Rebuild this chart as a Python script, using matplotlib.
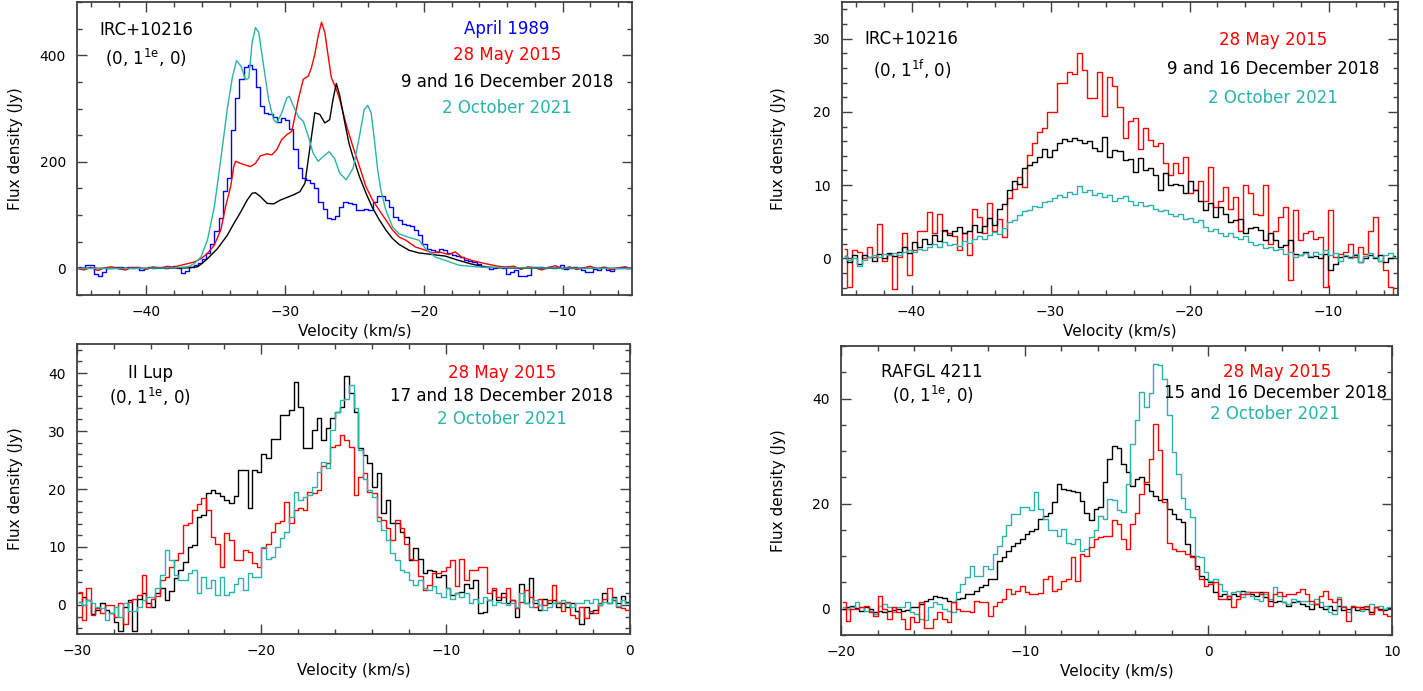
import numpy as np
import matplotlib.pyplot as plt
from matplotlib.ticker import MultipleLocator

BLUE = '#0000ff'
RED = '#ff0000'
BLACK = '#000000'
TEAL = '#2ab3ab'

# IRC+10216 (0,1^1e,0): smooth spectra sampled at read-off velocities
irc_e_v_oct21 = [-45, -41, -38, -37.0, -36.55, -36.07, -35.6, -35.1, -34.64, -34.17, -33.8, -33.5,
                 -33.17, -32.86, -32.62, -32.38, -32.14, -31.9, -31.55, -31.19, -30.83, -30.6, -30.24,
                 -29.88, -29.7, -29.4, -29.05, -28.69, -28.33, -27.98, -27.62, -27.26, -26.83, -26.43,
                 -26.07, -25.6, -25.1, -24.64, -24.3, -24.05, -23.8, -23.57, -23.33, -23.1, -22.74,
                 -22.26, -21.8, -21.07, -20.36, -19.88, -19.17, -18.45, -17.5, -16.07, -14, -10, -5]
irc_e_f_oct21 = [0, 0, 1, 3, 9, 21, 53, 116, 204, 299, 359, 390, 379, 354, 357, 424, 452, 443, 380, 317,
                 279, 273, 292, 320, 323, 305, 285, 276, 248, 216, 201, 210, 219, 206, 179, 166, 188, 248,
                 298, 306, 292, 242, 185, 147, 109, 78, 65, 58, 53, 37, 21, 15, 6, 2.5, 1, 0.5, 0]

irc_e_v_dec18 = [-45, -40, -37, -36.3, -35.6, -34.88, -34.17, -33.7, -33.2, -32.74, -32.38, -32.14,
                 -31.79, -31.3, -30.83, -30.36, -29.88, -29.4, -28.93, -28.57, -28.2, -27.86, -27.5,
                 -27.14, -26.79, -26.55, -26.31, -26.07, -25.71, -25.4, -25.12, -24.64, -24.17, -23.69,
                 -23.21, -22.74, -22.26, -21.79, -21.07, -20.36, -19.4, -18.45, -17.5, -16.55, -15.6,
                 -14.17, -10, -5]
irc_e_f_dec18 = [0, 0, 1, 3, 18, 37, 62, 84, 106, 128, 141, 142, 135, 122, 121, 128, 133, 138, 144, 160,
                 229, 292, 289, 273, 279, 317, 347, 325, 275, 235, 210, 172, 141, 113, 91, 72, 56, 45,
                 34, 29, 26, 23, 15, 8, 2.5, 0.6, 0, 0]

irc_e_v_may15 = [-45, -44.5, -44.0, -43.5, -43.0, -42.5, -42.0, -41.5, -41.0, -40.5, -40.0, -39.5, -39.0,
                 -38.5, -38.0, -37.5, -37.0, -36.55, -36.07, -35.6, -35.12, -34.64, -34.29, -33.93,
                 -33.7, -33.57, -33.21, -32.86, -32.5, -32.14, -31.79, -31.31, -30.95, -30.6, -30.24,
                 -29.88, -29.52, -29.29, -29.05, -28.69, -28.33, -28.1, -27.86, -27.62, -27.38, -27.14,
                 -26.9, -26.67, -26.31, -26.07, -25.6, -25.12, -24.64, -24.17, -23.69, -23.21, -22.74,
                 -22.26, -21.79, -21.31, -20.6, -19.88, -19.4, -18.93, -18.21, -17.74, -17.26, -16.55,
                 -15.6, -14.64, -14.17, -13.5, -13.0, -12.5, -12.0, -11.5, -11.0, -10.5, -10.0, -9.5,
                 -9.0, -8.5, -8.0, -7.5, -7.0, -6.5, -6.0, -5.5, -5.0]
irc_e_f_may15 = [0, -3, 2, -4, 1, 3, -1, -3, 2, 1, -2, 3, 0, 4, 2, 6, 9, 12, 18, 28, 43, 72, 116, 153,
                 191, 201, 197, 194, 191, 197, 211, 215, 213, 223, 242, 251, 257, 286, 317, 355, 361,
                 377, 402, 436, 462, 443, 399, 358, 336, 317, 270, 229, 191, 153, 128, 109, 91, 72, 59,
                 53, 40, 34, 29, 31, 26, 31, 21, 15, 9, 4, 2.5, 4, -2, 3, 1, -3, 2, 5, -1, 3, -2, 1, 4,
                 -1, 2, -3, 1, 3, -1]

# April 1989, 0.3 km/s channels from -45 km/s
irc_e_f_apr89 = [2.5, 0, 5.7, 6, -10, -15, -7, 0, 1, 2.5,
                 2, 1, 2, 0, 2, -4, 0, 2, 1, 2,
                 2, 1, 2, 4, 0, -9, -5, 3, 6, 10,
                 18, 28, 45, 70, 95, 145, 170, 260, 320, 355,
                 378, 381, 375, 340, 305, 292, 290, 285, 274, 282,
                 278, 262, 225, 188, 170, 165, 160, 150, 125, 112,
                 95, 92, 98, 115, 125, 122, 120, 109, 110, 111,
                 110, 125, 136, 136, 128, 115, 97, 90, 84, 81,
                 80, 72, 62, 45, 37, 35, 31, 37, 35, 29,
                 26, 24, 21, 16, 13, 12, 8, 5, 2.5, -1,
                 0, 2, 1, -10, -7, -4, -15, -15, -13, 2.5,
                 2, 2, 1, 2, 0, 3, 6, -1, 0, 2,
                 1, -4, -7, -6, -1, -4, 2, -4, -5, 1,
                 0, 2, 1]

# IRC+10216 (0,1^1f,0), channels spanning -45 .. -5 km/s
irc_f_may15 = [1.3, -3.9, 1.1, 0.9, 0.0, 1.6, 0.2, 4.7, -0.3, 0.6,
               -4.2, 0.2, 3.4, -2.3, 1.1, 3.8, 3.8, 6.3, 3.4, 6.0,
               3.8, 3.4, 3.0, 1.1, 3.4, 0.4, 6.8, 5.7, 3.4, 7.5,
               3.8, 5.4, 2.9, 8.2, 9.5, 11.1, 9.8, 14.1, 15.7, 17.3,
               17.8, 20.0, 20.0, 23.9, 23.9, 25.5, 25.2, 28.0, 25.7, 21.9,
               21.9, 25.5, 19.4, 24.8, 23.5, 20.7, 16.4, 18.7, 19.1, 15.0,
               17.8, 16.2, 15.3, 15.7, 13.0, 11.4, 13.0, 11.6, 13.9, 8.9,
               9.3, 10.5, 7.9, 12.5, 7.0, 7.9, 9.8, 6.8, 8.4, 3.8,
               10.0, 8.9, 6.1, 5.9, 10.0, 2.0, 3.8, 5.7, 7.0, -3.0,
               6.6, 2.5, 3.4, 3.8, 2.7, 2.9, -3.9, 6.6, 0.2, 0.6,
               0.9, 2.0, 0.2, 1.6, 0.6, 3.8, 5.7, -0.3, -1.6, -3.9,
               -5.0]
irc_f_dec18 = [0.3, -0.5, 0.4, -0.8, 0.5, 0.2, -0.3, 0.6, 0.1, 0.8,
               0.3, 0.9, 1.6, 0.8, 2.2, 1.6, 2.6, 2.0, 3.2, 2.4,
               3.9, 3.2, 3.8, 4.3, 3.4, 3.8, 4.5, 3.6, 4.4, 5.5,
               4.6, 6.8, 7.4, 9.4, 10.6, 10.2, 12.4, 12.8, 13.2, 13.8,
               14.9, 13.9, 14.8, 15.8, 16.3, 16.0, 16.5, 16.2, 15.7, 16.0,
               15.1, 14.6, 16.6, 13.9, 14.8, 14.6, 13.4, 13.6, 11.8, 13.7,
               12.1, 12.3, 11.4, 9.3, 11.6, 10.0, 10.2, 10.0, 8.9, 10.5,
               9.3, 7.9, 6.6, 7.5, 5.7, 7.0, 6.1, 5.0, 5.2, 5.4,
               3.4, 4.1, 4.3, 3.9, 2.5, 3.4, 2.5, 1.6, 1.8, 2.5,
               0.6, 0.4, 0.9, 0.2, 0.3, 0.0, 0.6, -1.6, -0.7, 0.2,
               0.3, 0.2, 0.4, -0.5, 0.0, 0.5, 0.1, 0.4, -0.5, 0.0,
               0.3]
irc_f_oct21 = [0.3, -0.2, 0.1, -1.0, -0.2, 0.2, 0.5, 0.2, 0.6, 0.4,
               0.7, 0.5, 0.9, 1.2, 0.9, 1.3, 1.1, 1.6, 1.9, 1.5,
               2.2, 1.8, 2.0, 1.7, 2.4, 2.1, 2.7, 3.0, 2.6, 3.2,
               3.6, 3.3, 4.1, 5.0, 5.3, 5.9, 6.4, 6.6, 7.2, 7.0,
               7.7, 7.9, 8.3, 8.7, 8.4, 9.1, 8.8, 9.9, 9.1, 9.4,
               8.7, 8.9, 8.4, 8.6, 7.9, 8.2, 8.5, 7.9, 7.3, 7.7,
               7.1, 7.3, 6.7, 6.4, 6.6, 6.0, 5.8, 6.0, 5.4, 5.5,
               4.9, 5.2, 4.3, 3.8, 4.0, 3.4, 3.1, 3.4, 2.9, 2.6,
               3.0, 2.3, 1.8, 2.0, 1.4, 1.6, 1.1, 1.3, 0.6, 0.9,
               0.2, 0.5, 0.7, 0.3, 0.9, 0.6, 1.2, 0.4, 0.8, -0.3,
               0.5, 0.1, 0.6, -0.5, 0.3, 0.7, 0.2, -0.4, 0.4, 0.8,
               0.2]

# II Lup (0,1^1e,0), 0.25 km/s channels from -30 km/s
lup_dec18 = [0.5, 1.4, 0.8, -1.5, -0.9, 0.3, -0.9, -1.4, -2.9, -4.4,
             -0.3, 0.9, -4.4, 1.1, 2.0, 0.3, -0.3, 2.0, 2.9, 0.9,
             2.5, 4.6, 6.0, 7.5, 10.0, 10.3, 15.2, 15.5, 19.3, 19.9,
             19.3, 18.8, 18.1, 17.6, 18.8, 23.3, 23.3, 16.7, 23.3, 23.0,
             26.1, 25.3, 28.7, 28.7, 32.8, 32.8, 33.6, 38.5, 34.2, 27.0,
             27.0, 30.2, 32.2, 28.4, 30.5, 32.2, 33.3, 34.2, 39.5, 36.5,
             33.3, 27.0, 25.9, 24.4, 20.4, 22.7, 15.8, 18.1, 14.1, 14.1,
             12.6, 11.8, 7.8, 9.8, 8.0, 5.5, 6.0, 5.8, 4.9, 5.2,
             3.0, 1.7, 2.0, 2.3, 3.7, 2.9, 4.3, -1.4, -1.2, 0.9,
             2.6, 0.9, 2.0, 0.3, 0.9, -2.0, 3.7, 0.3, 4.6, 0.3,
             -0.9, 1.1, 0.3, 0.9, -0.3, 0.3, -0.3, 0.3, -1.1, -3.2,
             -0.3, -1.4, -0.9, 0.0, 2.0, 0.3, 1.4, 0.3, 1.5, 0.5]
lup_may15 = [2.3, -2.6, 2.9, -1.7, -0.6, -1.4, 0.0, 0.0, -2.0, 0.4,
             -3.2, 0.6, 1.1, 1.7, 5.2, -0.3, 1.1, 1.5, 4.3, 4.9,
             6.6, 7.8, 8.9, 13.8, 14.1, 16.4, 17.5, 18.4, 16.4, 11.8,
             10.6, 6.6, 12.4, 11.2, 7.8, 7.8, 9.5, 9.2, 7.2, 6.6,
             9.8, 10.6, 12.6, 14.1, 14.4, 17.8, 14.1, 16.4, 16.7, 16.4,
             19.5, 19.3, 19.8, 23.9, 24.5, 27.3, 27.6, 29.3, 28.5, 27.3,
             19.0, 22.1, 22.8, 19.5, 19.3, 15.2, 14.7, 13.3, 11.2, 14.7,
             13.3, 10.6, 8.0, 7.8, 5.0, 2.6, 3.5, 5.5, 5.5, 5.8,
             6.5, 7.8, 3.2, 8.0, 4.3, 6.0, 6.0, 6.6, 6.6, 2.0,
             2.9, 1.4, 1.4, 2.9, 0.9, -0.6, 0.6, 2.6, 1.4, -0.3,
             1.1, 0.0, 0.9, 3.4, 0.3, -1.1, 0.6, -1.7, -2.3, -0.3,
             -2.3, -1.1, -1.4, 0.3, 1.1, 2.9, 0.9, -0.3, -0.6, -0.9]
lup_oct21 = [0.6, 0.0, 0.9, 0.3, -0.3, -0.6, -2.6, -1.4, -0.3, -2.0,
             0.3, -1.1, -1.1, -0.3, 0.9, 1.4, 1.4, 2.9, 5.2, 9.5,
             7.8, 5.2, 4.3, 4.3, 5.5, 6.0, 2.0, 4.9, 2.9, 4.3,
             1.7, 4.9, 1.7, 2.3, 3.7, 4.6, 2.6, 5.5, 4.9, 4.9,
             10.0, 8.0, 8.3, 10.0, 11.5, 12.6, 15.2, 19.5, 18.1, 18.7,
             19.0, 20.4, 23.0, 24.7, 23.6, 30.2, 33.3, 35.3, 35.5, 38.0,
             34.0, 26.7, 21.8, 19.8, 18.7, 14.4, 12.9, 11.2, 8.9, 7.8,
             6.0, 5.7, 4.3, 3.4, 4.3, 2.9, 2.6, 3.2, 2.0, 1.4,
             2.9, 1.1, 2.0, 1.4, 2.0, 0.3, 1.1, 0.3, 1.4, 0.9,
             0.0, 0.6, 0.3, 0.0, 0.3, -0.3, 2.0, 0.3, -0.3, 0.9,
             0.0, -0.9, -0.3, 0.3, 0.6, 0.9, 0.3, -0.3, 0.3, 0.3,
             0.9, 0.3, 1.1, 0.0, 0.6, 0.3, 1.2, -0.2, 0.8, 0.4]

# RAFGL 4211 (0,1^1e,0), 0.25 km/s channels from -20 km/s
afgl_dec18 = [0.0, 0.3, 0.6, 0.2, -0.4, 0.3, -0.1, -0.7, -0.4, -0.7,
              -0.4, -0.2, 0.0, -0.4, -0.2, 0.3, 0.3, 0.9, 1.5, 1.8,
              2.5, 2.2, 2.0, 1.5, 1.2, 1.8, 2.0, 2.8, 2.8, 3.4,
              4.1, 4.6, 5.7, 5.7, 9.1, 9.8, 11.0, 11.9, 12.6, 13.3,
              14.2, 14.7, 15.2, 17.1, 17.7, 18.3, 20.3, 23.7, 22.8, 22.6,
              22.5, 22.2, 20.5, 18.3, 16.8, 19.0, 19.3, 24.1, 28.5, 31.0,
              30.5, 27.6, 26.0, 23.4, 24.7, 25.0, 23.7, 22.5, 21.5, 20.6,
              20.9, 19.0, 18.0, 17.1, 16.5, 12.3, 10.1, 8.2, 6.3, 5.7,
              5.0, 3.1, 2.5, 2.8, 1.8, 2.8, 2.5, 3.4, 3.1, 2.8,
              2.5, 3.1, 2.2, 1.5, 1.2, 1.5, 1.2, 0.6, 1.2, 1.5,
              0.9, 0.6, 0.0, 0.9, 0.3, 0.0, 0.6, -0.3, 0.6, -0.3,
              0.0, 0.3, -0.3, 0.3, 0.0, -0.6, 0.3, 0.0, -0.3, 0.2]
afgl_oct21 = [0.3, 0.0, 0.3, 1.2, 0.3, -0.4, -0.4, -1.0, 0.6, 0.9,
              0.3, -0.7, 0.3, 0.3, 1.2, -0.7, -1.0, -2.0, -2.2, 0.3,
              1.2, 0.9, 0.0, -0.4, -0.7, 3.1, 4.7, 6.0, 8.2, 6.3,
              6.3, 8.2, 7.6, 10.4, 12.0, 13.9, 16.0, 18.0, 18.0, 19.3,
              19.3, 18.7, 22.2, 19.0, 17.1, 14.9, 14.9, 13.9, 15.2, 12.6,
              12.3, 13.3, 11.0, 11.4, 13.6, 14.9, 17.7, 17.0, 20.9, 20.6,
              18.7, 18.4, 23.7, 31.4, 36.0, 41.2, 38.3, 41.0, 46.6, 46.3,
              43.7, 36.8, 29.8, 25.6, 21.0, 19.0, 17.4, 10.1, 9.8, 6.9,
              5.3, 5.6, 4.7, 3.4, 2.5, 3.1, 3.4, 2.2, 3.1, 2.5,
              1.8, 1.5, 2.8, 1.8, 4.1, 2.5, 1.2, 0.9, 1.8, 1.2,
              1.5, 1.5, 0.9, 1.8, 1.2, 0.6, -0.7, -1.0, 2.2, 0.6,
              -0.7, 0.6, 0.3, -0.4, 0.3, 0.9, 0.3, 0.6, 0.0, 0.4]
afgl_may15 = [1.2, -2.3, 0.0, 0.0, 0.3, 0.6, -0.7, -1.3, 2.5, 0.0,
              -2.0, 0.3, -0.7, -2.0, -3.9, -1.6, -2.6, 1.2, -3.6, -3.6,
              -2.0, -0.7, -2.0, -2.6, 1.2, 0.0, -0.4, -0.4, -0.7, 1.5,
              1.2, 1.2, -1.3, 0.6, 1.2, 1.8, 3.7, 2.8, 3.4, 4.4,
              3.1, 2.8, 2.8, 3.0, 5.7, 6.3, 3.4, 3.7, 5.3, 5.7,
              9.8, 5.3, 10.5, 10.1, 11.7, 13.3, 13.6, 13.9, 13.9, 16.8,
              16.1, 13.3, 11.4, 16.1, 18.3, 21.8, 24.1, 28.5, 35.2, 30.2,
              20.3, 12.6, 11.4, 11.0, 11.0, 10.5, 9.8, 7.6, 5.7, 4.4,
              4.7, 5.0, 1.8, 1.8, 2.5, 0.3, 1.8, 2.8, 2.8, 3.1,
              3.1, 2.8, 3.1, 0.6, 2.8, 3.1, 2.5, 2.8, 2.8, 3.1,
              3.7, 2.8, 1.5, 0.9, 2.5, 3.4, 1.8, 1.2, 1.8, 0.3,
              -2.3, 0.6, 0.3, 0.0, 0.6, -1.0, 0.3, -0.3, -1.0, -1.3]


def channels(vmin, vmax, flux):
    # centre velocities of equal-width channels covering [vmin, vmax]
    n = len(flux)
    dv = (vmax - vmin) / n
    return vmin + dv * (np.arange(n) + 0.5)


W, H = 1423, 691
fig = plt.figure(figsize=(W / 100, H / 100), dpi=100)


def add_panel(l, t, r, b):
    return fig.add_axes([l / W, 1 - b / H, (r - l) / W, (b - t) / H])


def style(ax, xlim, ylim, xmaj, xmin, ymaj, ymin, ylab_x):
    ax.set_xlim(*xlim)
    ax.set_ylim(*ylim)
    ax.xaxis.set_major_locator(MultipleLocator(xmaj))
    ax.xaxis.set_minor_locator(MultipleLocator(xmin))
    ax.yaxis.set_major_locator(MultipleLocator(ymaj))
    ax.yaxis.set_minor_locator(MultipleLocator(ymin))
    ax.tick_params(which='both', direction='in', top=True, right=True,
                   color='#404040', width=1.0, labelsize=10)
    ax.tick_params(which='major', length=7)
    ax.tick_params(which='minor', length=3.5)
    ax.tick_params(axis='x', pad=7)
    ax.tick_params(axis='y', pad=8)
    for s in ax.spines.values():
        s.set_linewidth(1.3)
        s.set_color('#404040')
    ax.set_xlabel('Velocity (km/s)', fontsize=11)
    ax.set_ylabel('Flux density (Jy)', fontsize=11)
    ax.xaxis.set_label_coords(0.5, -0.10)
    ax.yaxis.set_label_coords(ylab_x, 0.5)


def label(x, y, s, color=BLACK):
    fig.text(x / W, 1 - y / H, s, color=color, fontsize=12, ha='center', va='center')


lw = 1.0

# top left: IRC+10216 (0,1^1e,0)
ax1 = add_panel(77, 2, 632, 295)
ax1.plot(channels(-45, -45 + 0.3 * len(irc_e_f_apr89), irc_e_f_apr89), irc_e_f_apr89,
         drawstyle='steps-mid', color=BLUE, lw=lw)
ax1.plot(irc_e_v_may15, irc_e_f_may15, color=RED, lw=lw)
ax1.plot(irc_e_v_dec18, irc_e_f_dec18, color=BLACK, lw=lw)
ax1.plot(irc_e_v_oct21, irc_e_f_oct21, color=TEAL, lw=lw)
style(ax1, (-45, -5), (-50, 500), 10, 2, 200, 50, -0.097)
label(146, 30, 'IRC+10216')
label(146, 58, r'(0, 1$^{\rm 1e}$, 0)')
label(507, 29, 'April 1989', BLUE)
label(507, 55, '28 May 2015', RED)
label(507, 82, '9 and 16 December 2018')
label(507, 108, '2 October 2021', TEAL)

# top right: IRC+10216 (0,1^1f,0)
ax2 = add_panel(842, 2, 1398, 295)
ax2.plot(channels(-45, -5, irc_f_may15), irc_f_may15, drawstyle='steps-mid', color=RED, lw=lw)
ax2.plot(channels(-45, -5, irc_f_dec18), irc_f_dec18, drawstyle='steps-mid', color=BLACK, lw=lw)
ax2.plot(channels(-45, -5, irc_f_oct21), irc_f_oct21, drawstyle='steps-mid', color=TEAL, lw=lw)
style(ax2, (-45, -5), (-5, 35), 10, 2, 10, 2, -0.10)
label(911, 39, 'IRC+10216')
label(912, 69, r'(0, 1$^{\rm 1f}$, 0)')
label(1273, 40, '28 May 2015', RED)
label(1273, 69, '9 and 16 December 2018')
label(1273, 98, '2 October 2021', TEAL)

# bottom left: II Lup
ax3 = add_panel(77, 344, 630, 634)
ax3.plot(channels(-30, 0, lup_dec18), lup_dec18, drawstyle='steps-mid', color=BLACK, lw=lw)
ax3.plot(channels(-30, 0, lup_may15), lup_may15, drawstyle='steps-mid', color=RED, lw=lw)
ax3.plot(channels(-30, 0, lup_oct21), lup_oct21, drawstyle='steps-mid', color=TEAL, lw=lw)
style(ax3, (-30, 0), (-5, 45), 10, 2, 10, 2, -0.098)
label(150, 373, 'II Lup')
label(150, 397, r'(0, 1$^{\rm 1e}$, 0)')
label(502, 373, '28 May 2015', RED)
label(502, 396, '17 and 18 December 2018')
label(502, 419, '2 October 2021', TEAL)

# bottom right: RAFGL 4211
ax4 = add_panel(841, 346, 1392, 635)
ax4.plot(channels(-20, 10, afgl_dec18), afgl_dec18, drawstyle='steps-mid', color=BLACK, lw=lw)
ax4.plot(channels(-20, 10, afgl_oct21), afgl_oct21, drawstyle='steps-mid', color=TEAL, lw=lw)
ax4.plot(channels(-20, 10, afgl_may15), afgl_may15, drawstyle='steps-mid', color=RED, lw=lw)
style(ax4, (-20, 10), (-5, 50), 10, 2, 20, 5, -0.10)
label(932, 372, 'RAFGL 4211')
label(933, 395, r'(0, 1$^{\rm 1e}$, 0)')
label(1277, 372, '28 May 2015', RED)
label(1276, 393, '15 and 16 December 2018')
label(1275, 414, '2 October 2021', TEAL)

fig.savefig('out.png', dpi=100)
